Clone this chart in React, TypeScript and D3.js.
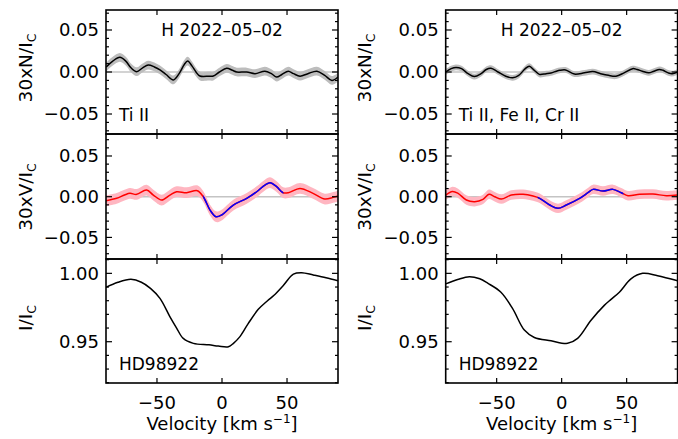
import React from 'react';
import * as d3 from 'd3';

// ---------- data ----------
const velTicks = [-50, 0, 50];
const polTicks = [-0.05, 0, 0.05];
const intTicks = [0.95, 1.0];
const dateLabel = 'H 2022\u201305\u201302';
const starLabel = 'HD98922';
const leftLines = 'Ti II';
const rightLines = 'Ti II, Fe II, Cr II';

const leftN: [number, number][] = [
  [-89, 0.006], [-84, 0.013], [-78.5, 0.0175], [-74, 0.013], [-70, 0.005], [-65.6, 0.0004],
  [-61, 0.005], [-56.7, 0.0083], [-52, 0.006], [-47.7, 0.0024], [-43, -0.003], [-37.4, -0.0095],
  [-33, -0.002], [-29, 0.009], [-26.4, 0.013], [-23, 0.007], [-20, 0], [-17, -0.0048],
  [-10, -0.005], [-6.7, -0.0048], [-2, 0.0], [3.6, 0.0044], [8, 0.002], [11.3, 0], [19, 0],
  [25.4, -0.002], [33, 0.001], [38, -0.002], [42, -0.006], [46, -0.003], [51, 0.001],
  [55, -0.002], [60, -0.005], [66, -0.002], [73, 0.001], [79, -0.004], [84.5, -0.01], [89.2, -0.006],
];
const leftV: [number, number][] = [
  [-89.2, -0.0049], [-81, -0.002], [-75, 0.002], [-70.8, 0.0041], [-65.6, 0.0029], [-58, 0.0082],
  [-52.8, 0.002], [-46.4, -0.0041], [-40, 0.002], [-34.9, 0.0061], [-27.2, 0.0049], [-19, 0.0074],
  [-14.4, 0], [-9.2, -0.0164], [-4.6, -0.0246], [-0.3, -0.0225], [8.7, -0.0102], [19, -0.002],
  [26.7, 0.0061], [33, 0.0143], [37, 0.0172], [42, 0.0123], [47, 0.0049], [51, 0.0049],
  [60, 0.0102], [70, 0.0041], [79, -0.0029], [85.6, -0.0008], [89.2, 0.0008],
];
const leftI: [number, number][] = [
  [-89.2, 0.9898], [-80, 0.9935], [-70, 0.9956], [-62, 0.9935], [-55, 0.989], [-47.7, 0.9817],
  [-40, 0.9682], [-34.9, 0.96], [-29.8, 0.9524], [-22, 0.9488], [-10, 0.9477], [-2.8, 0.9468],
  [4.9, 0.9463], [9, 0.949], [13.8, 0.9537], [20, 0.963], [27.9, 0.9737], [35, 0.98], [40, 0.984],
  [47, 0.991], [54.9, 0.9995], [61.3, 1.0005], [70.2, 0.9988], [80, 0.9968], [89.2, 0.9946],
];
const rightN: [number, number][] = [
  [-89.2, 0], [-85, 0.004], [-81.3, 0.0055], [-77, 0.004], [-72, -0.002], [-67.2, -0.0055],
  [-62, -0.002], [-58, 0.003], [-54.4, 0.0045], [-49, 0], [-43, -0.005], [-37.7, -0.0069],
  [-33, -0.004], [-28, 0.004], [-24.9, 0.0069], [-21, 0.002], [-17.2, -0.0028], [-12, -0.002],
  [-8.2, -0.0012], [-4, 0.001], [-1.5, 0.002], [3, 0.0025], [9.8, -0.0025], [17.5, -0.001],
  [24, 0.0005], [30, -0.002], [36, -0.004], [41.8, -0.005], [48, -0.001], [54.6, 0.004],
  [58, 0.003], [62, 0.001], [67, -0.001], [71, 0.001], [75.2, 0.003], [78, 0.002], [82, -0.001],
  [85, -0.002], [89.2, 0],
];
const rightV: [number, number][] = [
  [-89.2, 0.002], [-84, 0.0065], [-79.7, 0.0041], [-73.3, -0.0041], [-66.9, -0.0061],
  [-60.5, -0.0033], [-55.9, 0.0029], [-51.5, 0], [-46.4, -0.0029], [-38.7, 0.002], [-29.7, 0.0029],
  [-22, 0.0008], [-16.9, -0.002], [-9.2, -0.0102], [-2.8, -0.0143], [3.6, -0.0102], [13.8, -0.002],
  [20.2, 0.0049], [24.1, 0.009], [31.8, 0.007], [39.5, 0.009], [45.9, 0.0049], [51, 0.0012],
  [60, 0.0029], [70.2, 0.0033], [80.5, 0.0012], [89.2, 0.002],
];
const rightI: [number, number][] = [
  [-89.2, 0.9923], [-80, 0.9955], [-71, 0.9976], [-63, 0.996], [-56.9, 0.9928], [-46.7, 0.9862],
  [-37.7, 0.9742], [-28.7, 0.9585], [-21, 0.9531], [-8.2, 0.9507], [4.6, 0.9488], [12.3, 0.9524],
  [22.6, 0.9657], [32.8, 0.9766], [38, 0.981], [44.4, 0.9862], [53.3, 0.9959], [62.3, 1.0],
  [73.8, 0.9983], [89.2, 0.9946],
];
const leftNErr = 0.0052;
const rightNErr = 0.0034;
const leftVErr = 0.0066;
const rightVErr = 0.0058;
const leftBlue: [number, number] = [-14.5, 47.2];
const rightBlue: [number, number] = [-18.5, 47.5];

// ---------- layout ----------
const W = 678;
const H = 439;
const FONT = "'DejaVu Sans', Verdana, sans-serif";
const FS_TICK = 18;
const FS_TXT = 17;
const FS_LAB = 18.5;
const velDomain: [number, number] = [-89.2, 89.2];
const rows = {
  N: { y: [10, 134] as [number, number], dom: [-0.0738, 0.0738] as [number, number] },
  V: { y: [134, 259] as [number, number], dom: [-0.0765, 0.077] as [number, number] },
  I: { y: [259, 383] as [number, number], dom: [0.9198, 1.0105] as [number, number] },
};

const fmtPol = (v: number) => (v < 0 ? '\u2212' : '') + Math.abs(v).toFixed(2);
const fmtVel = (v: number) => (v < 0 ? '\u2212' : '') + Math.abs(v).toString();

type ColSpec = {
  id: string;
  xr: [number, number];
  labelX: number;
  N: [number, number][];
  V: [number, number][];
  I: [number, number][];
  nErr: number;
  vErr: number;
  blue: [number, number];
  lines: string;
};

const cols: ColSpec[] = [
  { id: 'L', xr: [106, 338], labelX: 32, N: leftN, V: leftV, I: leftI, nErr: leftNErr, vErr: leftVErr, blue: leftBlue, lines: leftLines },
  { id: 'R', xr: [445.7, 677.6], labelX: 371, N: rightN, V: rightV, I: rightI, nErr: rightNErr, vErr: rightVErr, blue: rightBlue, lines: rightLines },
];

function Frame({ x, y, ticks, minorStep, fmt, showX }: {
  x: d3.ScaleLinear<number, number>;
  y: d3.ScaleLinear<number, number>;
  ticks: number[];
  minorStep: number;
  fmt: (v: number) => string;
  showX: boolean;
}) {
  const [x0, x1] = x.range();
  const [yb, yt] = y.range();
  const [d0, d1] = y.domain();
  const minors: number[] = [];
  for (let k = Math.ceil(d0 / minorStep - 1e-6); k * minorStep <= d1 + 1e-9; k++) minors.push(k * minorStep);
  const isMajor = (v: number) => ticks.some((t) => Math.abs(t - v) < 1e-6);
  return (
    <g>
      <rect x={x0} y={yt} width={x1 - x0} height={yb - yt} fill="none" stroke="#000" strokeWidth={1.6} />
      {minors.map((v, i) => {
        const len = isMajor(v) ? 6 : 3;
        const yy = y(v);
        return (
          <g key={i}>
            <line x1={x0} x2={x0 + len} y1={yy} y2={yy} stroke="#000" strokeWidth={1.2} />
            <line x1={x1} x2={x1 - len} y1={yy} y2={yy} stroke="#000" strokeWidth={1.2} />
          </g>
        );
      })}
      {velTicks.map((v, i) => (
        <g key={'x' + i}>
          <line x1={x(v)} x2={x(v)} y1={yt} y2={yt + 5} stroke="#000" strokeWidth={1.2} />
          <line x1={x(v)} x2={x(v)} y1={yb} y2={yb - 5} stroke="#000" strokeWidth={1.2} />
        </g>
      ))}
      {ticks.map((v, i) => (
        <text key={'t' + i} x={x0 - 7} y={y(v)} dy="0.36em" textAnchor="end" fontSize={FS_TICK} fontFamily={FONT}>
          {fmt(v)}
        </text>
      ))}
      {showX &&
        velTicks.map((v, i) => (
          <text key={'xl' + i} x={x(v)} y={409} textAnchor="middle" fontSize={FS_TICK} fontFamily={FONT}>
            {fmtVel(v)}
          </text>
        ))}
    </g>
  );
}

function YLabel({ x, y, main }: { x: number; y: number; main: string }) {
  return (
    <text transform={`translate(${x},${y}) rotate(-90)`} textAnchor="middle" fontSize={FS_LAB} fontFamily={FONT}>
      {main}
      <tspan fontSize={12.5} dy={4}>C</tspan>
    </text>
  );
}

function Column({ c }: { c: ColSpec }) {
  const x = d3.scaleLinear().domain(velDomain).range(c.xr);
  const yN = d3.scaleLinear().domain(rows.N.dom).range([rows.N.y[1], rows.N.y[0]]);
  const yV = d3.scaleLinear().domain(rows.V.dom).range([rows.V.y[1], rows.V.y[0]]);
  const yI = d3.scaleLinear().domain(rows.I.dom).range([rows.I.y[1], rows.I.y[0]]);
  const curve = d3.curveCatmullRom.alpha(0.5);

  const lineN = d3.line<[number, number]>().x((d) => x(d[0])).y((d) => yN(d[1])).curve(curve);
  const bandN = d3.area<[number, number]>().x((d) => x(d[0])).y0((d) => yN(d[1] - c.nErr)).y1((d) => yN(d[1] + c.nErr)).curve(curve);
  const lineV = d3.line<[number, number]>().x((d) => x(d[0])).y((d) => yV(d[1])).curve(curve);
  const bandV = d3.area<[number, number]>().x((d) => x(d[0])).y0((d) => yV(d[1] - c.vErr)).y1((d) => yV(d[1] + c.vErr)).curve(curve);
  const lineI = d3.line<[number, number]>().x((d) => x(d[0])).y((d) => yI(d[1])).curve(curve);

  const [x0, x1] = c.xr;
  const cx = (x0 + x1) / 2;
  return (
    <g>
      <defs>
        <clipPath id={`clipN${c.id}`}>
          <rect x={x0} y={rows.N.y[0]} width={x1 - x0} height={rows.N.y[1] - rows.N.y[0]} />
        </clipPath>
        <clipPath id={`clipV${c.id}`}>
          <rect x={x0} y={rows.V.y[0]} width={x1 - x0} height={rows.V.y[1] - rows.V.y[0]} />
        </clipPath>
        <clipPath id={`clipB${c.id}`}>
          <rect x={x(c.blue[0])} y={rows.V.y[0]} width={x(c.blue[1]) - x(c.blue[0])} height={rows.V.y[1] - rows.V.y[0]} />
        </clipPath>
        <clipPath id={`clipI${c.id}`}>
          <rect x={x0} y={rows.I.y[0]} width={x1 - x0} height={rows.I.y[1] - rows.I.y[0]} />
        </clipPath>
      </defs>

      <g clipPath={`url(#clipN${c.id})`}>
        <line x1={x0} x2={x1} y1={yN(0)} y2={yN(0)} stroke="#c4c4c4" strokeWidth={1.5} />
        <path d={bandN(c.N) || ''} fill="#bdbdbd" />
        <path d={lineN(c.N) || ''} fill="none" stroke="#000" strokeWidth={1.5} />
      </g>
      <g clipPath={`url(#clipV${c.id})`}>
        <line x1={x0} x2={x1} y1={yV(0)} y2={yV(0)} stroke="#c4c4c4" strokeWidth={1.5} />
        <path d={bandV(c.V) || ''} fill="#ffb6c1" />
        <path d={lineV(c.V) || ''} fill="none" stroke="#ff0000" strokeWidth={1.5} />
        <path d={lineV(c.V) || ''} fill="none" stroke="#0000ff" strokeWidth={1.5} clipPath={`url(#clipB${c.id})`} />
      </g>
      <g clipPath={`url(#clipI${c.id})`}>
        <path d={lineI(c.I) || ''} fill="none" stroke="#000" strokeWidth={1.5} />
      </g>

      <Frame x={x} y={yN} ticks={polTicks} minorStep={0.01} fmt={fmtPol} showX={false} />
      <Frame x={x} y={yV} ticks={polTicks} minorStep={0.01} fmt={fmtPol} showX={false} />
      <Frame x={x} y={yI} ticks={intTicks} minorStep={0.01} fmt={(v) => v.toFixed(2)} showX={true} />

      <text x={cx} y={36} textAnchor="middle" fontSize={FS_TXT} fontFamily={FONT}>{dateLabel}</text>
      <text x={x0 + 13} y={120.5} fontSize={FS_TXT} fontFamily={FONT}>{c.lines}</text>
      <text x={x0 + 13} y={370} fontSize={FS_TXT} fontFamily={FONT}>{starLabel}</text>

      <YLabel x={c.labelX} y={68} main="30xN/I" />
      <YLabel x={c.labelX} y={197} main="30xV/I" />
      <YLabel x={c.labelX} y={318} main="I/I" />

      <text x={cx} y={430} textAnchor="middle" fontSize={FS_TICK} fontFamily={FONT}>
        Velocity [km s
        <tspan fontSize={12} dy={-7}>{'\u22121'}</tspan>
        <tspan dy={7}>]</tspan>
      </text>
    </g>
  );
}

export default function App() {
  return (
    <svg
      width={W}
      height={H}
      viewBox={`0 0 ${W} ${H}`}
      style={{ position: 'absolute', left: 0, top: 0, background: '#fff' }}
    >
      <rect x={0} y={0} width={W} height={H} fill="#fff" />
      {cols.map((c) => (
        <Column key={c.id} c={c} />
      ))}
    </svg>
  );
}
